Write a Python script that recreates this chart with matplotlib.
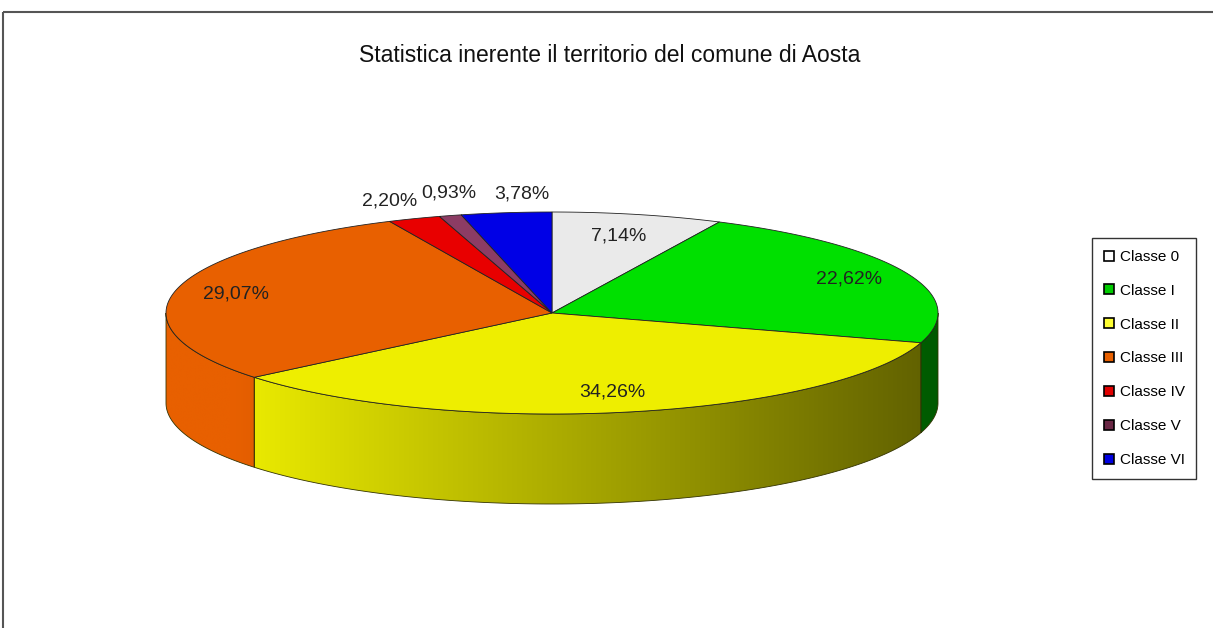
import numpy as np
import matplotlib
matplotlib.use("Agg")
import matplotlib.pyplot as plt
from matplotlib.patches import Polygon, Rectangle
from matplotlib.lines import Line2D

plt.rcParams['font.family'] = ['Liberation Sans', 'DejaVu Sans']

# data
classes = ["Classe 0", "Classe I", "Classe II", "Classe III",
           "Classe IV", "Classe V", "Classe VI"]
shares = [7.14, 22.62, 34.26, 29.07, 2.20, 0.93, 3.78]
labels = ["7,14%", "22,62%", "34,26%", "29,07%", "2,20%", "0,93%", "3,78%"]
top_colors = ["#EAEAEA", "#00E000", "#EEEE00", "#E86000",
              "#E80000", "#8C3C64", "#0000E6"]
legend_colors = ["#FFFFFF", "#00CC00", "#FFFF33", "#E86000",
                 "#E00000", "#6A2845", "#0000E0"]

# pie geometry (pixel space)
cx, cy = 552, 313
rx, ry = 386, 101
depth = 90
label_r = [0.78, 0.84, 0.80, 0.84, 1.19, 1.23, 1.19]
label_dx = [0, 0, 0, 0, 2, 22, 24]

fig = plt.figure(figsize=(12.13, 6.28), dpi=100)
ax = fig.add_axes([0, 0, 1, 1])
ax.set_xlim(0, 1213)
ax.set_ylim(628, 0)
ax.axis("off")

# chart frame
ax.add_patch(Rectangle((3, 12), 1300, 700, fill=False, edgecolor="#555555", lw=1.5))


def pt(t, r=1.0, dy=0.0):
    t = np.radians(t)
    return cx + rx * r * np.cos(t), cy - ry * r * np.sin(t) + dy


def shade(x):
    return np.clip(1.0 - 0.60 * (x - 230) / (937 - 230), 0.38, 1.0)


angles = []
start = 90.0
for v in shares:
    a2 = start
    a1 = start - v * 3.6
    angles.append((a1, a2))
    start = a1

# side faces
for (a1, a2), col in zip(angles, top_colors):
    lo, hi = max(a1, -180), min(a2, 0)
    if hi <= lo:
        continue
    t = np.linspace(lo, hi, 200)
    xt, yt = pt(t)
    xb, yb = pt(t[::-1], dy=depth)
    verts = np.column_stack([np.r_[xt, xb], np.r_[yt, yb]])
    poly = Polygon(verts, closed=True, facecolor="none", edgecolor="#333300", lw=0.6, zorder=3)
    ax.add_patch(poly)
    x0, x1 = verts[:, 0].min(), verts[:, 0].max()
    xs = np.linspace(x0, x1, 300)
    base = np.array(matplotlib.colors.to_rgb(col))
    img = (shade(xs)[:, None] * base[None, :])[None, :, :]
    im = ax.imshow(img, extent=(x0, x1, verts[:, 1].max(), verts[:, 1].min()),
                   aspect="auto", interpolation="bilinear", zorder=2)
    im.set_clip_path(poly)

# top wedges
for (a1, a2), col in zip(angles, top_colors):
    t = np.linspace(a1, a2, 200)
    xt, yt = pt(t)
    verts = np.column_stack([np.r_[cx, xt], np.r_[cy, yt]])
    ax.add_patch(Polygon(verts, closed=True, facecolor=col, edgecolor="#222222",
                         lw=0.6, zorder=4))

# labels
for (a1, a2), lab, r, dx in zip(angles, labels, label_r, label_dx):
    x, y = pt((a1 + a2) / 2, r)
    ax.text(x + dx, y, lab, ha="center", va="center", fontsize=14,
            color="#222222", zorder=5)

ax.text(610, 55, "Statistica inerente il territorio del comune di Aosta",
        ha="center", va="center", fontsize=16.5, color="#111111")

handles = [Line2D([], [], marker="s", linestyle="none", markersize=7,
                  markerfacecolor=c, markeredgecolor="black", markeredgewidth=1.2)
           for c in legend_colors]
leg = fig.legend(handles, classes, loc="center left",
                 bbox_to_anchor=(1092 / 1213, 1 - 358.5 / 628),
                 fontsize=11, frameon=True, fancybox=False, edgecolor="black",
                 labelspacing=1.3, handlelength=0.7, handletextpad=0.35,
                 borderpad=0.76, borderaxespad=0)
leg.get_frame().set_linewidth(1.0)

fig.savefig("out.png", dpi=100)
